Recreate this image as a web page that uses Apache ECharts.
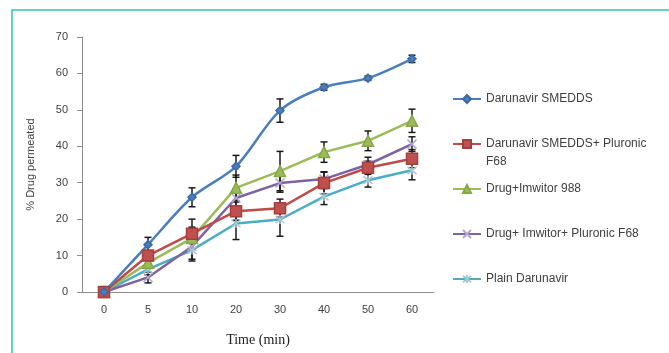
<!DOCTYPE html>
<html>
<head>
<meta charset="utf-8">
<script src="https://cdn.jsdelivr.net/npm/echarts@6/dist/echarts.min.js"></script>
<style>
  html, body { margin: 0; padding: 0; background: #fff; }
  #main { width: 669px; height: 353px; }
</style>
</head>
<body>
<div id="main"></div>
<script>
// time points (min)
var categories = ['0', '5', '10', '20', '30', '40', '50', '60'];

// % drug permeated
var smedds      = [0, 13.0, 26.0, 34.5, 49.8, 56.2, 58.7, 64.0];
var smeddsPlur  = [0, 10.0, 16.0, 22.2, 23.0, 29.9, 34.1, 36.6];
var imwitor     = [0, 8.0, 14.8, 28.6, 33.2, 38.4, 41.5, 47.0];
var imwitorPlur = [0, 4.0, 12.5, 25.8, 29.9, 31.0, 35.0, 40.6];
var plain       = [0, 6.2, 11.5, 18.8, 19.9, 26.2, 30.7, 33.4];

// standard deviations (error bars)
var smeddsSd      = [0, 2.0, 2.6, 3.0, 3.2, 0.8, 0.6, 1.0];
var smeddsPlurSd  = [0, 1.2, 4.0, 2.5, 2.5, 3.0, 1.8, 2.5];
var imwitorSd     = [0, 1.5, 3.0, 3.5, 5.4, 2.8, 2.7, 3.2];
var imwitorPlurSd = [0, 1.5, 3.5, 2.5, 2.5, 2.0, 2.0, 2.0];
var plainSd       = [0, 1.5, 3.0, 4.4, 4.6, 2.2, 1.9, 2.6];

var names = [
  'Darunavir SMEDDS',
  'Darunavir SMEDDS+ Pluronic F68',
  'Drug+Imwitor 988',
  'Drug+ Imwitor+ Pluronic F68',
  'Plain Darunavir'
];

var chart = echarts.init(document.getElementById('main'));

function errData(vals, sd) {
  var out = [];
  for (var i = 0; i < vals.length; i++) {
    if (sd[i] > 0) out.push([i, vals[i] - sd[i], vals[i] + sd[i]]);
  }
  return out;
}

function renderErr(params, api) {
  var lo = api.coord([api.value(0), api.value(1)]);
  var hi = api.coord([api.value(0), api.value(2)]);
  var w = 3.5;
  var st = { stroke: '#1a1a1a', lineWidth: 1.5 };
  return {
    type: 'group',
    children: [
      { type: 'line', shape: { x1: lo[0], y1: lo[1], x2: hi[0], y2: hi[1] }, style: st },
      { type: 'line', shape: { x1: lo[0] - w, y1: lo[1], x2: lo[0] + w, y2: lo[1] }, style: st },
      { type: 'line', shape: { x1: hi[0] - w, y1: hi[1], x2: hi[0] + w, y2: hi[1] }, style: st }
    ]
  };
}

var crossPath = 'path://M0,0L10,10M10,0L0,10';
var starPath = 'path://M0,0L10,10M10,0L0,10M5,-1L5,11';

function lineSeries(name, data, color, symbol, size, mcolor, mborder, smooth) {
  return {
    name: name,
    type: 'line',
    data: data,
    smooth: smooth || false,
    symbol: symbol,
    symbolSize: size,
    z: 3,
    lineStyle: { color: color, width: 2.5 },
    itemStyle: { color: mcolor, borderColor: mborder, borderWidth: 1.5 }
  };
}

function errSeries(vals, sd) {
  return {
    type: 'custom',
    renderItem: renderErr,
    data: errData(vals, sd),
    z: 2,
    silent: true,
    encode: { x: 0, y: [1, 2] }
  };
}

var option = {
  animation: false,
  backgroundColor: '#fff',
  textStyle: { fontFamily: 'Liberation Sans' },
  graphic: [
    {
      type: 'rect',
      shape: { x: 12, y: 10, width: 700, height: 400 },
      style: { fill: 'none', stroke: '#2cc3b4', lineWidth: 1.5 },
      silent: true
    },
    {
      type: 'text',
      left: 486,
      top: 156,
      style: { text: 'F68', fill: '#404040', font: '12px "Liberation Sans"' }
    }
  ],
  grid: { left: 82, right: 235, top: 37, bottom: 61 },
  legend: {
    orient: 'vertical',
    left: 447,
    top: 88,
    itemWidth: 28,
    itemHeight: 10,
    itemGap: 33,
    textStyle: { color: '#404040', fontSize: 12, fontFamily: 'Liberation Sans' },
    formatter: function (n) {
      return n === names[1] ? 'Darunavir SMEDDS+ Pluronic' : n;
    },
    data: names
  },
  xAxis: {
    type: 'category',
    data: categories,
    boundaryGap: true,
    name: 'Time (min)',
    nameLocation: 'middle',
    nameGap: 41,
    nameTextStyle: { fontFamily: 'Liberation Serif', fontSize: 14, color: '#222' },
    axisLine: { lineStyle: { color: '#8c8c8c', width: 1 } },
    axisTick: { alignWithLabel: false, length: 5, lineStyle: { color: '#8c8c8c' } },
    axisLabel: { color: '#404040', fontSize: 11, margin: 12 },
    splitLine: { show: false }
  },
  yAxis: {
    type: 'value',
    min: 0,
    max: 70,
    interval: 10,
    name: '% Drug permeated',
    nameLocation: 'middle',
    nameGap: 46,
    nameTextStyle: { color: '#404040', fontSize: 11 },
    axisLine: { show: true, lineStyle: { color: '#8c8c8c', width: 1 } },
    axisTick: { show: true, length: 5, lineStyle: { color: '#8c8c8c' } },
    axisLabel: { color: '#404040', fontSize: 11, margin: 14 },
    splitLine: { show: false }
  },
  series: [
    errSeries(smedds, smeddsSd),
    errSeries(smeddsPlur, smeddsPlurSd),
    errSeries(imwitor, imwitorSd),
    errSeries(imwitorPlur, imwitorPlurSd),
    errSeries(plain, plainSd),
    lineSeries(names[4], plain, '#4bacc6', starPath, 9, '#4bacc6', '#a9c8d2'),
    lineSeries(names[3], imwitorPlur, '#7e62a1', crossPath, 9, '#7e62a1', '#b5a6cb'),
    lineSeries(names[2], imwitor, '#9bbb59', 'triangle', 11, '#9bbb59', '#86a84a'),
    lineSeries(names[1], smeddsPlur, '#be4b48', 'rect', 11, '#c0504d', '#a33f3c'),
    lineSeries(names[0], smedds, '#4a7ebb', 'diamond', 8, '#4a7ebb', '#3c6aa6', 0.3)
  ]
};

chart.setOption(option);
</script>
</body>
</html>
